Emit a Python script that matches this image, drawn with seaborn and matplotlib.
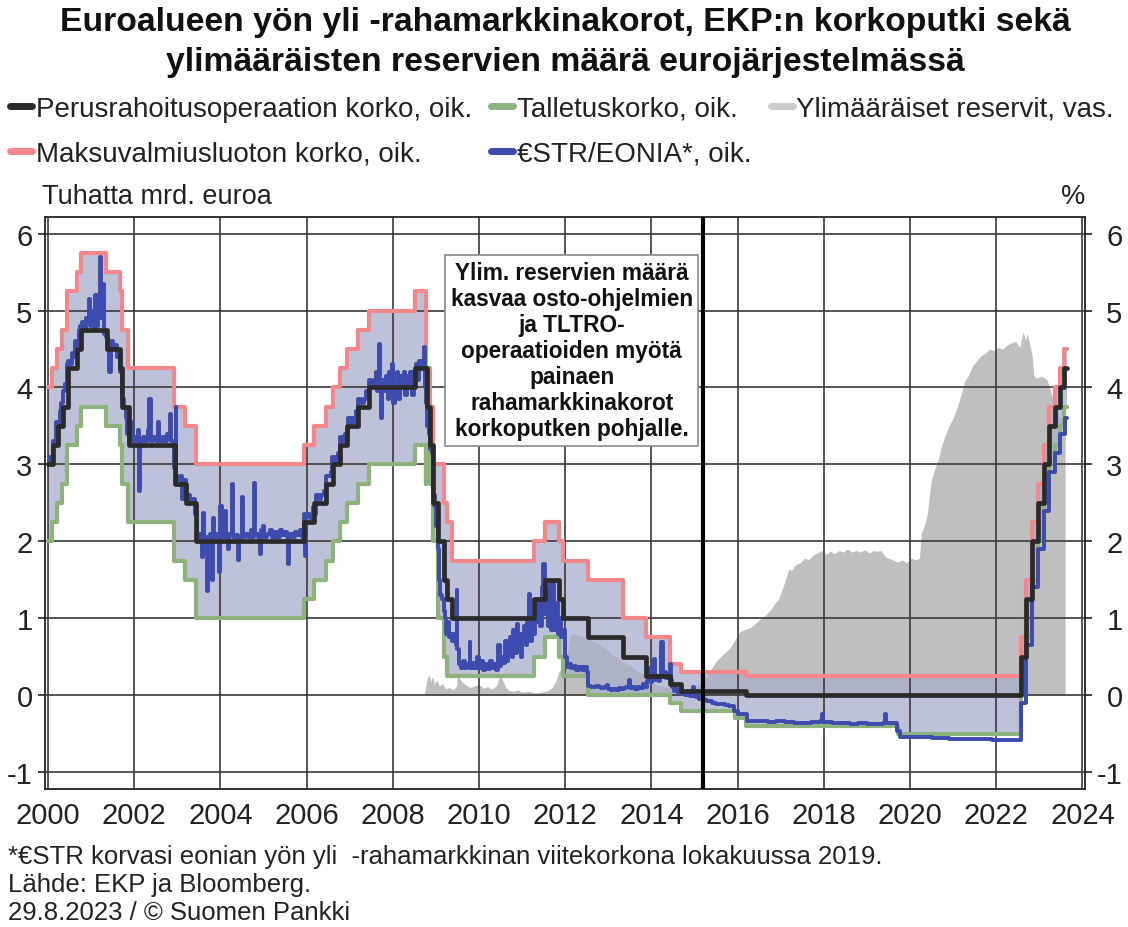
import numpy as np
import pandas as pd
import matplotlib
matplotlib.use("Agg")
import matplotlib.pyplot as plt
import seaborn as sns
from matplotlib.lines import Line2D

sns.set_theme(style="white")
plt.rcParams["font.family"] = ["Liberation Sans", "DejaVu Sans"]
plt.rcParams["axes.unicode_minus"] = False

# ---------------- data ----------------
END = 2023.65

mro_dates = ["2000-01-01", "2000-02-09", "2000-03-22", "2000-05-04", "2000-06-15", "2000-09-06",
             "2000-10-11", "2001-05-15", "2001-09-05", "2001-09-19", "2001-11-14", "2002-12-11",
             "2003-03-12", "2003-06-09", "2005-12-06", "2006-03-08", "2006-06-15", "2006-08-09",
             "2006-10-11", "2006-12-13", "2007-03-14", "2007-06-13", "2008-07-09", "2008-10-15",
             "2008-11-12", "2008-12-10", "2009-01-21", "2009-03-11", "2009-04-08", "2009-05-13",
             "2011-04-13", "2011-07-13", "2011-11-09", "2011-12-14", "2012-07-11", "2013-05-08",
             "2013-11-13", "2014-06-11", "2014-09-10", "2016-03-16", "2022-07-27", "2022-09-14",
             "2022-11-02", "2022-12-21", "2023-02-08", "2023-03-22", "2023-05-10", "2023-06-21",
             "2023-08-02"]
mro_rates = [3.00, 3.25, 3.50, 3.75, 4.25, 4.50, 4.75, 4.50, 4.25, 3.75, 3.25, 2.75, 2.50, 2.00,
             2.25, 2.50, 2.75, 3.00, 3.25, 3.50, 3.75, 4.00, 4.25, 3.75, 3.25, 2.50, 2.00, 1.50,
             1.25, 1.00, 1.25, 1.50, 1.25, 1.00, 0.75, 0.50, 0.25, 0.15, 0.05, 0.00, 0.50, 1.25,
             2.00, 2.50, 3.00, 3.50, 3.75, 4.00, 4.25]

dep_dates = ["2000-01-01", "2000-02-04", "2000-03-17", "2000-04-28", "2000-06-09", "2000-09-01",
             "2000-10-06", "2001-05-11", "2001-08-31", "2001-09-18", "2001-11-09", "2002-12-06",
             "2003-03-07", "2003-06-06", "2005-12-06", "2006-03-08", "2006-06-15", "2006-08-09",
             "2006-10-11", "2006-12-13", "2007-03-14", "2007-06-13", "2008-07-09", "2008-10-08",
             "2008-10-09", "2008-11-12", "2008-12-10", "2009-01-21", "2009-03-11", "2009-04-08",
             "2011-04-13", "2011-07-13", "2011-11-09", "2011-12-14", "2012-07-11", "2014-06-11",
             "2014-09-10", "2015-12-09", "2016-03-16", "2019-09-18", "2022-07-27", "2022-09-14",
             "2022-11-02", "2022-12-21", "2023-02-08", "2023-03-22", "2023-05-10", "2023-06-21",
             "2023-08-02"]
dep_rates = [2.00, 2.25, 2.50, 2.75, 3.25, 3.50, 3.75, 3.50, 3.25, 2.75, 2.25, 1.75, 1.50, 1.00,
             1.25, 1.50, 1.75, 2.00, 2.25, 2.50, 2.75, 3.00, 3.25, 2.75, 3.25, 2.75, 2.00, 1.00,
             0.50, 0.25, 0.50, 0.75, 0.50, 0.25, 0.00, -0.10, -0.20, -0.30, -0.40, -0.50, 0.00,
             0.75, 1.50, 2.00, 2.50, 3.00, 3.25, 3.50, 3.75]

mlf_dates = ["2000-01-01", "2000-02-04", "2000-03-17", "2000-04-28", "2000-06-09", "2000-09-01",
             "2000-10-06", "2001-05-11", "2001-08-31", "2001-09-18", "2001-11-09", "2002-12-06",
             "2003-03-07", "2003-06-06", "2005-12-06", "2006-03-08", "2006-06-15", "2006-08-09",
             "2006-10-11", "2006-12-13", "2007-03-14", "2007-06-13", "2008-07-09", "2008-10-08",
             "2008-10-09", "2008-11-12", "2008-12-10", "2009-03-11", "2009-04-08", "2009-05-13",
             "2011-04-13", "2011-07-13", "2011-11-09", "2011-12-14", "2012-07-11", "2013-05-08",
             "2013-11-13", "2014-06-11", "2014-09-10", "2016-03-16", "2022-07-27", "2022-09-14",
             "2022-11-02", "2022-12-21", "2023-02-08", "2023-03-22", "2023-05-10", "2023-06-21",
             "2023-08-02"]
mlf_rates = [4.00, 4.25, 4.50, 4.75, 5.25, 5.50, 5.75, 5.50, 5.25, 4.75, 4.25, 3.75, 3.50, 3.00,
             3.25, 3.50, 3.75, 4.00, 4.25, 4.50, 4.75, 5.00, 5.25, 4.75, 4.25, 3.75, 3.00, 2.50,
             2.25, 1.75, 2.00, 2.25, 2.00, 1.75, 1.50, 1.00, 0.75, 0.40, 0.30, 0.25, 0.75, 1.50,
             2.25, 2.75, 3.25, 3.75, 4.00, 4.25, 4.50]

# €STR/EONIA (decimal year, %)
eonia_points = [
    (2000.00, 3.00), (2000.04, 3.10), (2000.08, 3.05), (2000.11, 3.30), (2000.15, 3.25), (2000.19, 3.55),
    (2000.23, 3.50), (2000.27, 3.70), (2000.31, 3.80), (2000.35, 3.95), (2000.39, 4.05), (2000.43, 4.30),
    (2000.47, 4.35), (2000.51, 4.30), (2000.55, 4.45), (2000.59, 4.40), (2000.63, 4.60), (2000.67, 4.55),
    (2000.71, 4.75), (2000.75, 4.80), (2000.79, 4.85), (2000.83, 4.75), (2000.87, 4.90), (2000.91, 4.85),
    (2000.95, 5.15), (2000.97, 4.80), (2001.00, 4.85), (2001.04, 5.00), (2001.07, 4.75), (2001.10, 5.20),
    (2001.13, 4.80), (2001.17, 4.95), (2001.21, 5.70), (2001.24, 4.90), (2001.28, 5.35), (2001.31, 4.70),
    (2001.35, 4.65), (2001.39, 4.55), (2001.42, 4.20), (2001.45, 4.60), (2001.50, 4.50), (2001.55, 4.55),
    (2001.60, 4.40), (2001.65, 4.45), (2001.68, 4.20), (2001.72, 3.85), (2001.76, 3.75), (2001.80, 3.60),
    (2001.84, 3.40), (2001.88, 3.30), (2001.92, 3.55), (2001.96, 3.30), (2002.00, 3.35), (2002.04, 3.30),
    (2002.08, 3.45), (2002.11, 2.65), (2002.14, 3.30), (2002.20, 3.35), (2002.26, 3.30), (2002.31, 3.45),
    (2002.35, 3.85), (2002.38, 3.30), (2002.44, 3.35), (2002.50, 3.30), (2002.55, 3.55), (2002.58, 3.30),
    (2002.64, 3.35), (2002.70, 3.30), (2002.76, 3.40), (2002.82, 3.65), (2002.85, 3.30), (2002.90, 3.30),
    (2002.93, 2.95), (2002.96, 3.75), (2002.98, 2.85), (2003.02, 2.80), (2003.08, 2.85), (2003.12, 2.55),
    (2003.16, 2.80), (2003.20, 2.55), (2003.25, 2.60), (2003.30, 2.50), (2003.36, 2.55), (2003.41, 2.35),
    (2003.45, 2.10), (2003.50, 2.05), (2003.55, 2.10), (2003.58, 1.80), (2003.60, 2.37), (2003.63, 2.05),
    (2003.68, 1.35), (2003.71, 2.05), (2003.76, 2.10), (2003.80, 1.50), (2003.83, 2.30), (2003.86, 2.05),
    (2003.92, 2.10), (2003.97, 1.60), (2004.00, 2.46), (2004.03, 2.05), (2004.09, 2.40), (2004.12, 2.05),
    (2004.18, 1.90), (2004.21, 2.10), (2004.26, 2.74), (2004.29, 2.05), (2004.35, 2.08), (2004.41, 1.76),
    (2004.44, 2.05), (2004.49, 2.58), (2004.52, 2.05), (2004.58, 2.10), (2004.64, 2.05), (2004.70, 2.15),
    (2004.74, 2.05), (2004.78, 2.76), (2004.81, 2.10), (2004.87, 2.05), (2004.92, 1.83), (2004.95, 2.15),
    (2004.99, 2.20), (2005.02, 2.05), (2005.08, 2.10), (2005.15, 2.15), (2005.20, 2.05), (2005.26, 2.12),
    (2005.32, 2.05), (2005.38, 2.15), (2005.44, 2.08), (2005.50, 2.12), (2005.54, 2.05), (2005.57, 1.70),
    (2005.60, 2.10), (2005.66, 2.05), (2005.72, 2.12), (2005.78, 2.08), (2005.84, 2.15), (2005.90, 2.05),
    (2005.93, 2.35), (2005.96, 1.81), (2005.98, 2.35), (2006.02, 2.35), (2006.08, 2.30), (2006.14, 2.45),
    (2006.18, 2.35), (2006.22, 2.60), (2006.28, 2.55), (2006.34, 2.60), (2006.40, 2.65), (2006.45, 2.85),
    (2006.50, 2.85), (2006.56, 2.90), (2006.60, 3.10), (2006.66, 3.05), (2006.72, 3.15), (2006.78, 3.35),
    (2006.84, 3.30), (2006.90, 3.40), (2006.95, 3.60), (2006.98, 3.55), (2007.02, 3.60), (2007.08, 3.55),
    (2007.14, 3.70), (2007.20, 3.85), (2007.26, 3.80), (2007.32, 3.85), (2007.38, 3.95), (2007.45, 4.10),
    (2007.50, 4.05), (2007.56, 4.10), (2007.60, 4.20), (2007.63, 3.95), (2007.66, 4.15), (2007.69, 4.56),
    (2007.71, 4.00), (2007.73, 3.60), (2007.76, 4.10), (2007.80, 3.95), (2007.84, 4.15), (2007.88, 3.85),
    (2007.92, 4.20), (2007.95, 3.90), (2007.98, 4.30), (2008.01, 3.80), (2008.05, 4.05), (2008.09, 4.20),
    (2008.13, 3.85), (2008.17, 4.15), (2008.21, 4.05), (2008.25, 4.20), (2008.29, 3.90), (2008.33, 4.15),
    (2008.37, 4.05), (2008.41, 4.20), (2008.45, 3.90), (2008.49, 4.20), (2008.53, 4.30), (2008.57, 4.10),
    (2008.61, 4.35), (2008.65, 4.25), (2008.69, 4.35), (2008.72, 4.53), (2008.75, 4.00), (2008.78, 3.80),
    (2008.80, 3.50), (2008.83, 3.40), (2008.87, 3.20), (2008.90, 3.15), (2008.94, 2.60), (2008.97, 2.45),
    (2009.00, 2.20), (2009.04, 1.90), (2009.07, 1.50), (2009.10, 1.30), (2009.14, 1.25), (2009.18, 1.10),
    (2009.21, 1.00), (2009.24, 0.80), (2009.27, 0.95), (2009.30, 0.75), (2009.34, 0.80), (2009.38, 0.70),
    (2009.42, 0.80), (2009.46, 0.65), (2009.48, 1.37), (2009.50, 0.60), (2009.53, 0.40), (2009.58, 0.35),
    (2009.63, 0.45), (2009.68, 0.35), (2009.73, 0.40), (2009.78, 0.69), (2009.80, 0.35), (2009.86, 0.42),
    (2009.91, 0.35), (2009.96, 0.50), (2010.00, 0.35), (2010.05, 0.45), (2010.10, 0.33), (2010.15, 0.40),
    (2010.20, 0.34), (2010.25, 0.45), (2010.30, 0.35), (2010.35, 0.40), (2010.40, 0.33), (2010.45, 0.65),
    (2010.48, 0.38), (2010.52, 0.50), (2010.56, 0.42), (2010.60, 0.70), (2010.64, 0.45), (2010.68, 0.55),
    (2010.72, 0.75), (2010.76, 0.50), (2010.80, 0.85), (2010.84, 0.55), (2010.87, 0.92), (2010.90, 0.60),
    (2010.94, 0.80), (2010.97, 0.50), (2011.00, 0.75), (2011.04, 0.90), (2011.08, 0.65), (2011.12, 0.95),
    (2011.15, 1.31), (2011.18, 0.70), (2011.22, 1.00), (2011.26, 0.80), (2011.30, 1.05), (2011.34, 0.95),
    (2011.38, 1.25), (2011.42, 0.90), (2011.46, 1.40), (2011.49, 1.70), (2011.52, 1.05), (2011.56, 1.35),
    (2011.60, 0.90), (2011.64, 1.45), (2011.68, 0.85), (2011.72, 1.46), (2011.75, 0.85), (2011.79, 1.20),
    (2011.83, 0.80), (2011.87, 1.00), (2011.91, 0.75), (2011.95, 0.85), (2012.00, 0.50), (2012.03, 0.36),
    (2012.08, 0.40), (2012.14, 0.35), (2012.20, 0.38), (2012.26, 0.33), (2012.32, 0.36), (2012.38, 0.33),
    (2012.44, 0.36), (2012.50, 0.30), (2012.53, 0.12), (2012.60, 0.11), (2012.66, 0.10), (2012.72, 0.12),
    (2012.78, 0.10), (2012.84, 0.09), (2012.90, 0.11), (2012.96, 0.13), (2013.00, 0.08), (2013.06, 0.07),
    (2013.12, 0.08), (2013.18, 0.07), (2013.24, 0.09), (2013.30, 0.08), (2013.36, 0.09), (2013.42, 0.10),
    (2013.47, 0.20), (2013.50, 0.09), (2013.56, 0.10), (2013.62, 0.08), (2013.68, 0.10), (2013.74, 0.09),
    (2013.80, 0.15), (2013.84, 0.10), (2013.90, 0.18), (2013.95, 0.35), (2013.98, 0.17), (2014.02, 0.20),
    (2014.06, 0.47), (2014.09, 0.20), (2014.13, 0.25), (2014.17, 0.18), (2014.21, 0.25), (2014.23, 0.69),
    (2014.26, 0.25), (2014.30, 0.30), (2014.34, 0.22), (2014.38, 0.28), (2014.42, 0.40), (2014.45, 0.20),
    (2014.48, 0.10), (2014.52, 0.05), (2014.58, 0.08), (2014.62, 0.03), (2014.68, 0.05), (2014.72, 0.02),
    (2014.78, 0.00), (2014.84, 0.05), (2014.90, -0.01), (2014.96, 0.10), (2014.98, -0.01), (2015.04, -0.03),
    (2015.10, -0.05), (2015.16, -0.04), (2015.22, -0.06), (2015.30, -0.08), (2015.40, -0.10), (2015.50, -0.11),
    (2015.60, -0.12), (2015.70, -0.13), (2015.80, -0.14), (2015.92, -0.20), (2016.00, -0.24), (2016.10, -0.24),
    (2016.21, -0.33), (2016.30, -0.34), (2016.50, -0.33), (2016.70, -0.35), (2016.90, -0.33), (2017.10, -0.35),
    (2017.30, -0.36), (2017.50, -0.36), (2017.70, -0.35), (2017.90, -0.34), (2017.96, -0.25), (2017.99, -0.35),
    (2018.20, -0.36), (2018.40, -0.36), (2018.60, -0.37), (2018.80, -0.36), (2019.00, -0.37), (2019.20, -0.37),
    (2019.38, -0.36), (2019.42, -0.25), (2019.45, -0.36), (2019.60, -0.36), (2019.70, -0.46), (2019.76, -0.55),
    (2019.90, -0.54), (2020.10, -0.54), (2020.30, -0.55), (2020.50, -0.56), (2020.70, -0.56), (2020.90, -0.57),
    (2021.10, -0.57), (2021.30, -0.57), (2021.50, -0.57), (2021.70, -0.57), (2021.90, -0.58), (2022.10, -0.58),
    (2022.30, -0.58), (2022.50, -0.58), (2022.57, -0.10), (2022.70, 0.65), (2022.84, 1.40), (2022.97, 1.90),
    (2023.11, 2.40), (2023.23, 2.90), (2023.36, 3.15), (2023.47, 3.40), (2023.59, 3.60), (2023.65, 3.60),
]

# Excess reserves, thousand billion euro (decimal year, value)
reserve_points = [
    (2000.00, 0.00), (2008.72, 0.00), (2008.76, 0.10), (2008.80, 0.22), (2008.84, 0.27), (2008.88, 0.18),
    (2008.92, 0.24), (2008.97, 0.15), (2009.02, 0.20), (2009.08, 0.12), (2009.15, 0.15), (2009.22, 0.08),
    (2009.30, 0.10), (2009.40, 0.07), (2009.48, 0.12), (2009.50, 0.28), (2009.54, 0.22), (2009.60, 0.18),
    (2009.70, 0.13), (2009.80, 0.10), (2009.90, 0.12), (2010.00, 0.14), (2010.10, 0.09), (2010.20, 0.11),
    (2010.30, 0.08), (2010.40, 0.12), (2010.46, 0.22), (2010.50, 0.25), (2010.56, 0.18), (2010.62, 0.10),
    (2010.70, 0.06), (2010.80, 0.05), (2010.90, 0.07), (2011.00, 0.04), (2011.15, 0.05), (2011.30, 0.03),
    (2011.45, 0.04), (2011.60, 0.06), (2011.70, 0.10), (2011.78, 0.18), (2011.85, 0.30), (2011.92, 0.35),
    (2011.98, 0.50), (2012.05, 0.55), (2012.12, 0.78), (2012.20, 0.80), (2012.30, 0.78), (2012.40, 0.76),
    (2012.50, 0.74), (2012.60, 0.72), (2012.70, 0.68), (2012.80, 0.66), (2012.90, 0.62), (2013.00, 0.58),
    (2013.10, 0.52), (2013.20, 0.50), (2013.30, 0.45), (2013.40, 0.42), (2013.50, 0.38), (2013.60, 0.35),
    (2013.70, 0.30), (2013.80, 0.28), (2013.90, 0.22), (2014.00, 0.18), (2014.10, 0.14), (2014.20, 0.12),
    (2014.35, 0.10), (2014.50, 0.08), (2014.65, 0.05), (2014.80, 0.06), (2014.95, 0.10), (2015.10, 0.14),
    (2015.20, 0.18), (2015.30, 0.25), (2015.40, 0.35), (2015.50, 0.44), (2015.60, 0.50), (2015.70, 0.55),
    (2015.80, 0.60), (2015.90, 0.68), (2016.04, 0.82), (2016.15, 0.85), (2016.30, 0.88), (2016.45, 0.95),
    (2016.55, 1.00), (2016.65, 1.04), (2016.75, 1.10), (2016.85, 1.18), (2016.95, 1.25), (2017.05, 1.40),
    (2017.19, 1.64), (2017.25, 1.62), (2017.35, 1.70), (2017.45, 1.72), (2017.55, 1.78), (2017.65, 1.76),
    (2017.75, 1.82), (2017.85, 1.85), (2017.95, 1.88), (2018.05, 1.83), (2018.15, 1.87), (2018.25, 1.84),
    (2018.35, 1.88), (2018.45, 1.86), (2018.55, 1.90), (2018.65, 1.86), (2018.75, 1.88), (2018.85, 1.86),
    (2018.95, 1.89), (2019.05, 1.85), (2019.15, 1.88), (2019.25, 1.87), (2019.33, 1.88), (2019.42, 1.80),
    (2019.50, 1.78), (2019.60, 1.76), (2019.72, 1.73), (2019.82, 1.76), (2019.92, 1.72), (2020.02, 1.78),
    (2020.14, 1.76), (2020.22, 1.78), (2020.26, 2.10), (2020.33, 2.20), (2020.40, 2.35), (2020.46, 2.65),
    (2020.50, 2.81), (2020.58, 2.95), (2020.65, 3.05), (2020.71, 3.20), (2020.80, 3.35), (2020.90, 3.50),
    (2021.00, 3.60), (2021.10, 3.75), (2021.18, 3.90), (2021.26, 4.07), (2021.35, 4.15), (2021.45, 4.28),
    (2021.55, 4.35), (2021.64, 4.41), (2021.75, 4.45), (2021.85, 4.50), (2021.95, 4.48), (2022.05, 4.52),
    (2022.15, 4.50), (2022.25, 4.55), (2022.35, 4.58), (2022.45, 4.60), (2022.55, 4.52), (2022.62, 4.72),
    (2022.68, 4.62), (2022.72, 4.70), (2022.78, 4.55), (2022.84, 4.40), (2022.87, 4.15), (2022.95, 4.12),
    (2023.05, 4.15), (2023.18, 4.10), (2023.26, 3.95), (2023.32, 3.85), (2023.40, 3.70), (2023.48, 3.60),
    (2023.60, 3.55), (2023.601, 0.00),
]

x_ticks = list(range(2000, 2025, 2))
y_ticks = list(range(-1, 7))

title_lines = ["Euroalueen yön yli -rahamarkkinakorot, EKP:n korkoputki sekä",
               "ylimääräisten reservien määrä eurojärjestelmässä"]
lbl_mro = "Perusrahoitusoperaation korko, oik."
lbl_dep = "Talletuskorko, oik."
lbl_res = "Ylimääräiset reservit, vas."
lbl_mlf = "Maksuvalmiusluoton korko, oik."
lbl_eon = "€STR/EONIA*, oik."
note_text = ("Ylim. reservien määrä\nkasvaa osto-ohjelmien\nja TLTRO-\noperaatioiden myötä\n"
             "painaen\nrahamarkkinakorot\nkorkoputken pohjalle.")
footnotes = ["*€STR korvasi eonian yön yli  -rahamarkkinan viitekorkona lokakuussa 2019.",
             "Lähde: EKP ja Bloomberg.",
             "29.8.2023 / © Suomen Pankki"]
PSPP_START = 2015.2

# ---------------- colours ----------------
C_MRO = "#2a2a2a"
C_DEP = "#8db27b"
C_MLF = "#f3878c"
C_EON = "#3d4aae"
C_RES = "#bfbfbf"
C_CORR = "#a9aecb"


def to_year(dates):
    d = pd.to_datetime(pd.Series(dates))
    days = np.where(d.dt.is_leap_year, 366.0, 365.0)
    return (d.dt.year + (d.dt.dayofyear - 1) / days).to_numpy()


def step_frame(dates, rates):
    t = np.append(to_year(dates), END)
    v = np.append(np.asarray(rates, float), rates[-1])
    return pd.DataFrame({"t": t, "v": v})


mro = step_frame(mro_dates, mro_rates)
dep = step_frame(dep_dates, dep_rates)
mlf = step_frame(mlf_dates, mlf_rates)
eon = pd.DataFrame(eonia_points, columns=["t", "v"])
res = pd.DataFrame(reserve_points, columns=["t", "v"])

grid_t = np.union1d(dep["t"].to_numpy(), mlf["t"].to_numpy())
dep_g = pd.Series(dep["v"].to_numpy(), index=dep["t"].to_numpy()).reindex(grid_t, method="ffill")
mlf_g = pd.Series(mlf["v"].to_numpy(), index=mlf["t"].to_numpy()).reindex(grid_t, method="ffill")

# ---------------- figure ----------------
fig = plt.figure(figsize=(11.28, 9.28), dpi=100)
ax = fig.add_axes([45 / 1128, 1 - 790 / 928, 1040 / 1128, (790 - 217.7) / 928])

ax.fill_between(res["t"], 0, res["v"], color=C_RES, lw=0, zorder=0.2)
ax.fill_between(grid_t, dep_g.to_numpy(), mlf_g.to_numpy(), step="post",
                color=C_CORR, alpha=0.75, lw=0, zorder=0.3)

sns.lineplot(data=mlf, x="t", y="v", ax=ax, color=C_MLF, lw=3.0, drawstyle="steps-post",
             estimator=None, sort=False, legend=False, zorder=3)
sns.lineplot(data=dep, x="t", y="v", ax=ax, color=C_DEP, lw=3.0, drawstyle="steps-post",
             estimator=None, sort=False, legend=False, zorder=3)
sns.lineplot(data=eon, x="t", y="v", ax=ax, color=C_EON, lw=2.8, drawstyle="steps-post",
             estimator=None, sort=False, legend=False, zorder=4)
sns.lineplot(data=mro, x="t", y="v", ax=ax, color=C_MRO, lw=3.4, drawstyle="steps-post",
             estimator=None, sort=False, legend=False, zorder=5)

ax.axvline(PSPP_START, color="black", lw=3.0, zorder=6)

ax.set_xlim(1999.93, 2024.06)
ax.set_ylim(-1.22, 6.22)
ax.set_xticks(x_ticks)
ax.set_yticks(y_ticks)
ax.set_xlabel("")
ax.set_ylabel("")
ax.set_axisbelow(True)
ax.grid(True, color="#3a3a3a", lw=1.2)
for s in ax.spines.values():
    s.set_visible(True)
    s.set_color("#222222")
    s.set_linewidth(1.3)
ax.tick_params(axis="both", which="major", direction="out", length=5, width=1.2,
               color="#222222", labelsize=21, labelcolor="#222222")
ax.tick_params(axis="x", pad=4)
ax.tick_params(axis="y", pad=4)

ax2 = ax.twinx()
ax2.set_ylim(ax.get_ylim())
ax2.set_yticks(y_ticks)
ax2.tick_params(axis="y", direction="out", length=5, width=1.2, color="#222222",
                labelsize=21, labelcolor="#222222", pad=22)
for lab in ax2.get_yticklabels():
    lab.set_horizontalalignment("right")
for s in ax2.spines.values():
    s.set_visible(False)
ax2.grid(False)

ax.text(2012.15, 4.48, note_text, ha="center", va="center", fontsize=16.3, weight="bold",
        linespacing=1.17, color="#111111", zorder=8,
        bbox=dict(boxstyle="square,pad=0.25", fc="white", ec="#8a8a8a", lw=1.2))

# ---------------- texts ----------------
fig.text(0.501, 1 - 23 / 928, title_lines[0], ha="center", va="center", fontsize=24.3,
         weight="bold", color="#111111")
fig.text(0.501, 1 - 62 / 928, title_lines[1], ha="center", va="center", fontsize=24.3,
         weight="bold", color="#111111")

handles = [Line2D([0], [0], color=C_MRO, lw=5), Line2D([0], [0], color=C_MLF, lw=5),
           Line2D([0], [0], color=C_DEP, lw=5), Line2D([0], [0], color=C_EON, lw=5),
           Line2D([0], [0], color="#cccccc", lw=5)]
labels = [lbl_mro, lbl_mlf, lbl_dep, lbl_eon, lbl_res]
fig.legend(handles, labels, ncol=3, loc="upper left", bbox_to_anchor=(10 / 1128, 1 - 97 / 928),
           frameon=False, fontsize=20, handlelength=0.8, handletextpad=0.12,
           columnspacing=0.7, labelspacing=0.66, borderaxespad=0, borderpad=0,
           labelcolor="#222222")

fig.text(42 / 1128, 1 - 197 / 928, "Tuhatta mrd. euroa", ha="left", va="center", fontsize=19.5,
         color="#222222")
fig.text(1085 / 1128, 1 - 197 / 928, "%", ha="right", va="center", fontsize=19.5, color="#222222")

for i, line in enumerate(footnotes):
    fig.text(8 / 1128, 1 - (857 + 28 * i) / 928, line, ha="left", va="center", fontsize=18.5,
             color="#222222")

fig.savefig("out.png", dpi=100, facecolor="white")
